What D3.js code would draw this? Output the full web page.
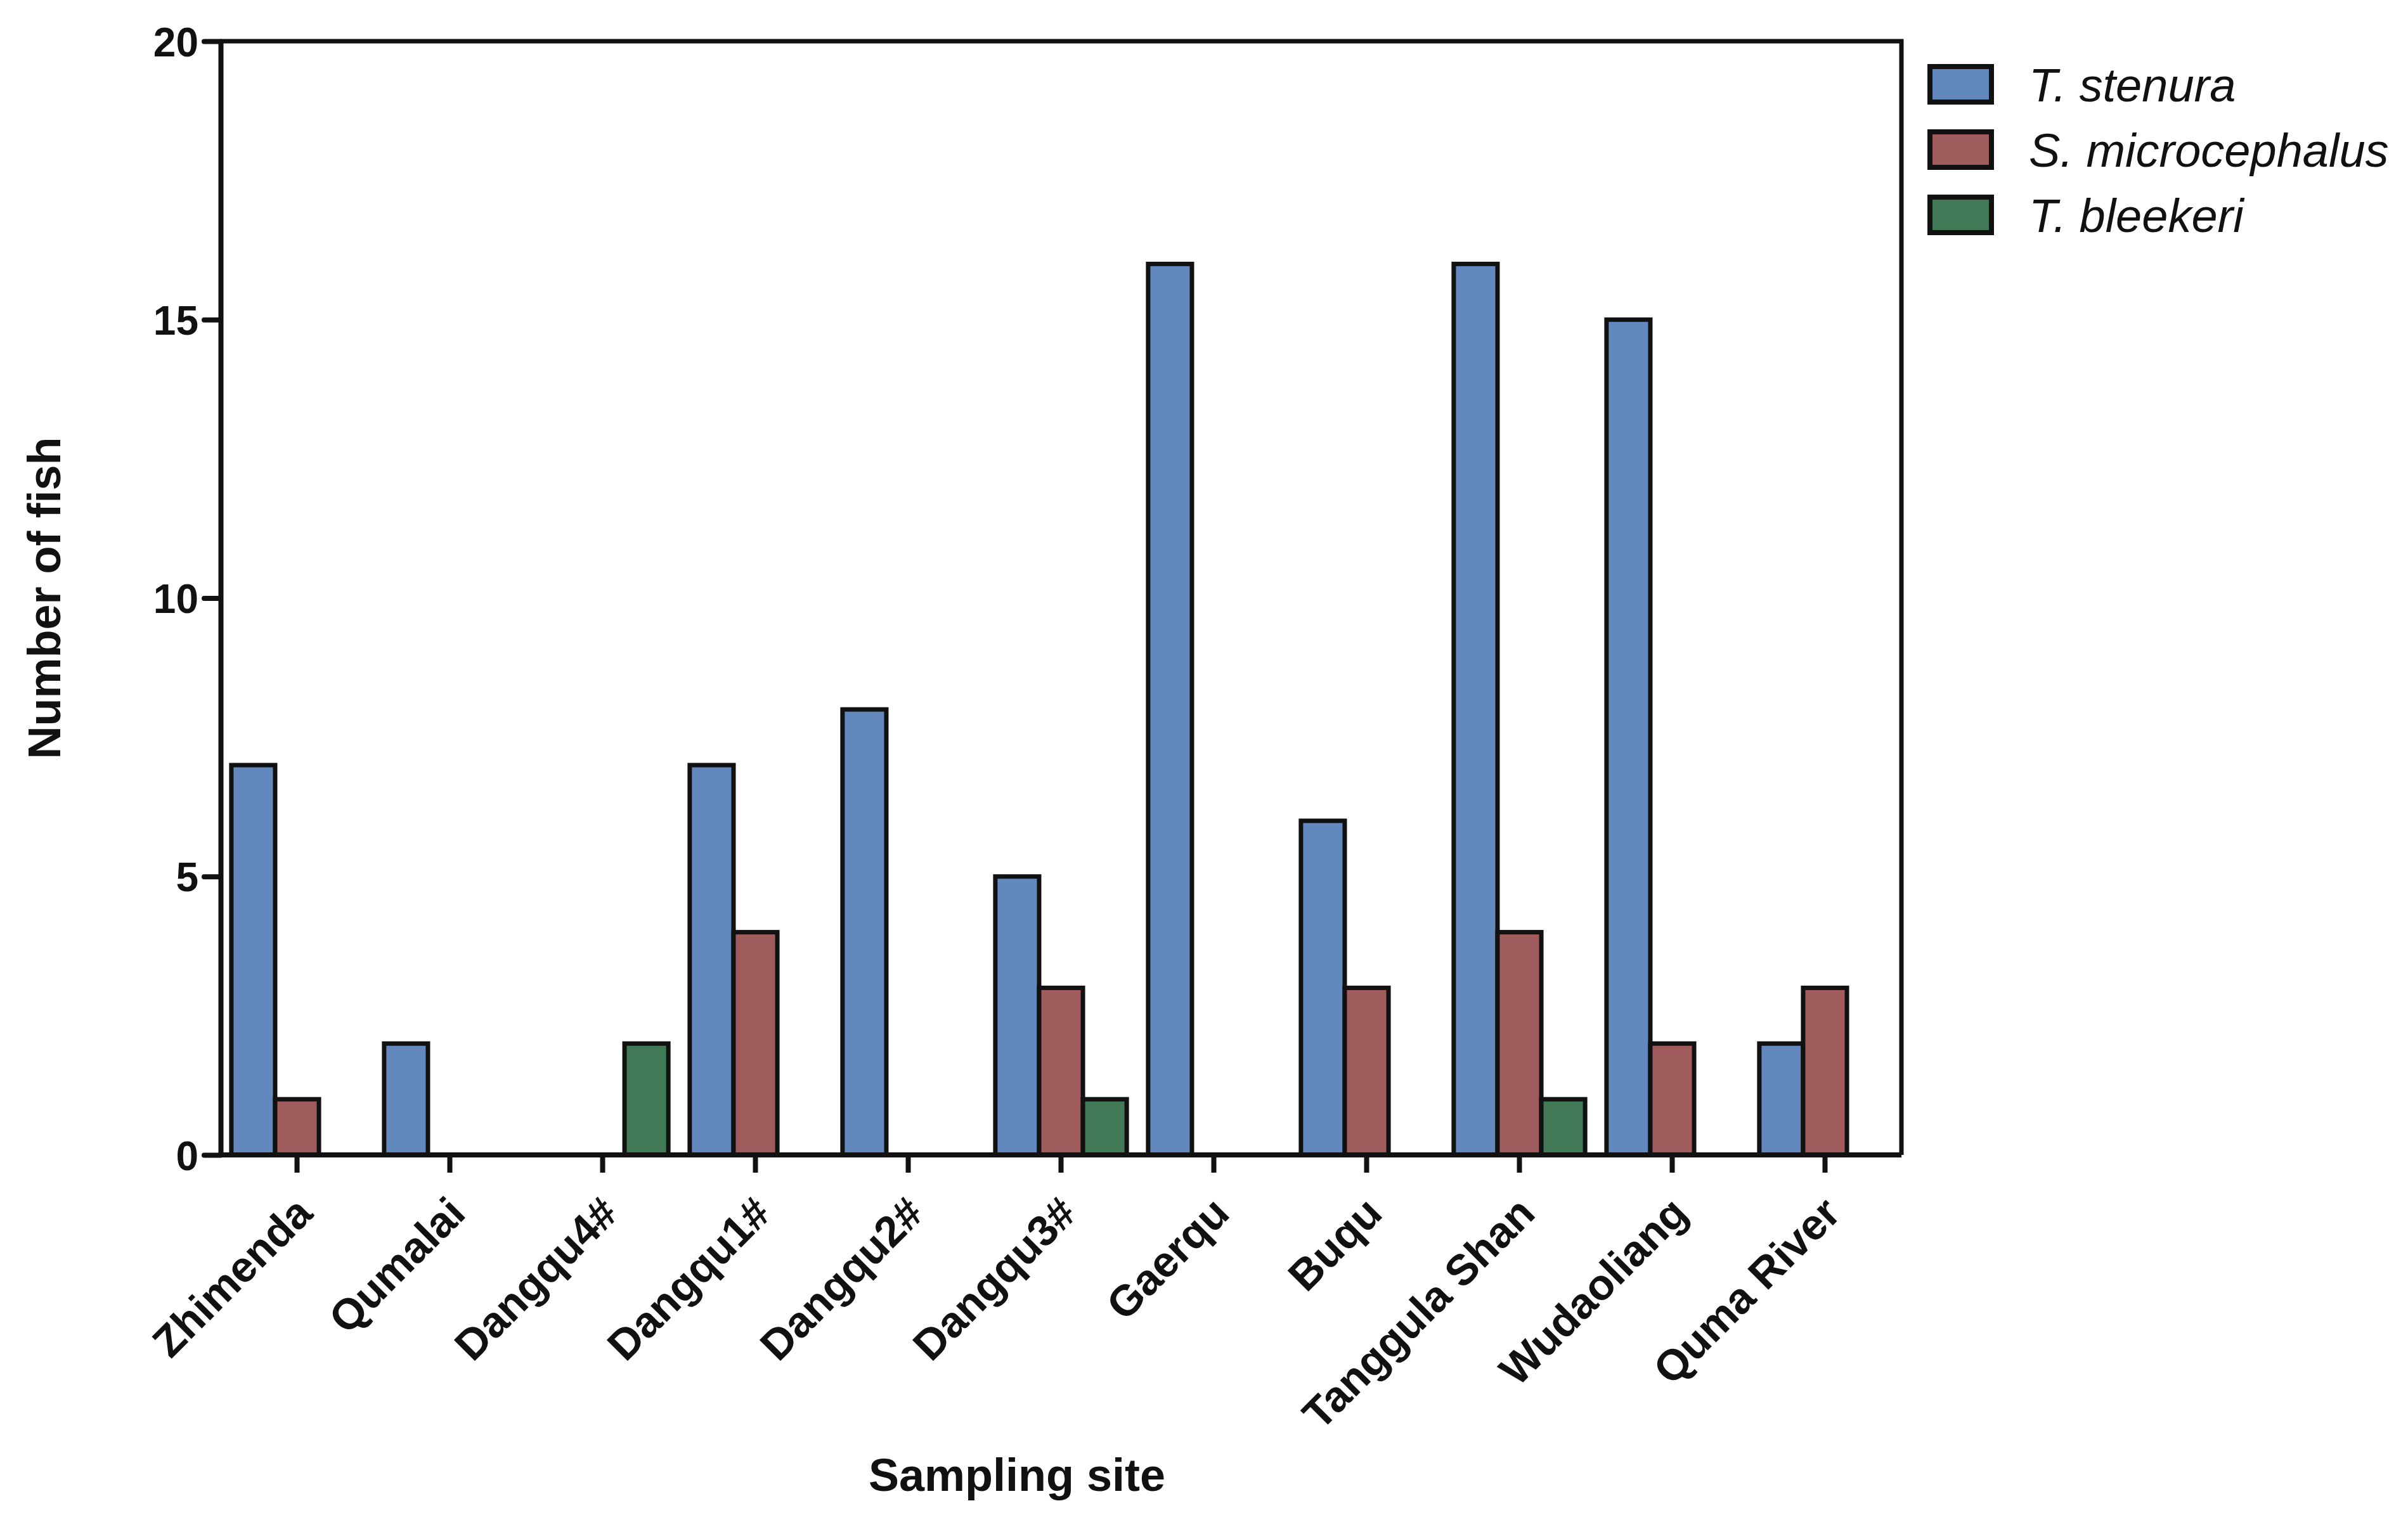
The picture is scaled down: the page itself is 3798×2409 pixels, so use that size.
<!DOCTYPE html>
<html>
<head>
<meta charset="utf-8">
<script src="https://cdn.jsdelivr.net/npm/d3@7"></script>
<style>
  html, body { margin: 0; padding: 0; background: #fff; }
  svg { display: block; }
  text { font-family: 'Liberation Sans', Arial, sans-serif; }
</style>
</head>
<body>
<svg id="chart" width="3798" height="2409"></svg>
<script>
const sites = ["Zhimenda", "Qumalai", "Dangqu4#", "Dangqu1#", "Dangqu2#", "Dangqu3#", "Gaerqu", "Buqu", "Tanggula Shan", "Wudaoliang", "Quma River"];
const seriesNames = ["T. stenura", "S. microcephalus", "T. bleekeri"];
const tStenura = [7, 2, 0, 7, 8, 5, 16, 6, 16, 15, 2];
const sMicrocephalus = [1, 0, 0, 4, 0, 3, 0, 3, 4, 2, 3];
const tBleekeri = [0, 0, 2, 0, 0, 1, 0, 0, 1, 0, 0];
const yTicks = [0, 5, 10, 15, 20];
const colors = ["#6388BD", "#A05C5D", "#417957"];

const seriesValues = [tStenura, sMicrocephalus, tBleekeri];
const svg = d3.select("#chart");
const L = 348, R = 2999, T = 65, B = 1822;
const ink = "#111";
const FONT = "'Liberation Sans', Arial, sans-serif";

const x0 = d3.scaleBand().domain(sites).range([L, R]).paddingInner(0.14).paddingOuter(0.07);
const x1 = d3.scaleBand().domain(seriesNames).range([0, x0.bandwidth()]).padding(0);
const y = d3.scaleLinear().domain([0, 20]).range([B, T]);

// bars
const groups = svg.append("g").selectAll("g").data(sites).join("g")
  .attr("transform", d => `translate(${x0(d)},0)`);
groups.selectAll("rect")
  .data((site, i) => seriesNames.map((s, k) => ({ s, k, v: seriesValues[k][i] })).filter(d => d.v > 0))
  .join("rect")
  .attr("x", d => x1(d.s))
  .attr("width", x1.bandwidth())
  .attr("y", d => y(d.v))
  .attr("height", d => y(0) - y(d.v))
  .attr("fill", d => colors[d.k])
  .attr("stroke", ink)
  .attr("stroke-width", 7);

// frame (top and right)
svg.append("path")
  .attr("d", `M${L},${T}H${R}V${B}`)
  .attr("fill", "none").attr("stroke", ink).attr("stroke-width", 7);

// y axis
const yAxis = svg.append("g").attr("transform", `translate(${L},0)`)
  .call(d3.axisLeft(y).tickValues(yTicks).tickSize(26).tickPadding(9).tickSizeOuter(0));
yAxis.select(".domain").attr("stroke", ink).attr("stroke-width", 8);
yAxis.selectAll(".tick line").attr("stroke", ink).attr("stroke-width", 8).attr("stroke-linecap", "round");
yAxis.selectAll(".tick text")
  .attr("font-family", FONT)
  .attr("font-weight", "bold").attr("font-size", 64).attr("fill", ink).attr("dy", "0.36em");

// x axis
const xAxis = svg.append("g").attr("transform", `translate(0,${B})`)
  .call(d3.axisBottom(x0).tickSize(28).tickSizeOuter(0).tickPadding(0));
xAxis.select(".domain").attr("stroke", ink).attr("stroke-width", 8)
  .attr("d", `M${L},0H${R}`);
xAxis.selectAll(".tick line").attr("stroke", ink).attr("stroke-width", 8);
xAxis.selectAll(".tick text")
  .attr("font-family", FONT)
  .attr("font-weight", "bold").attr("font-size", 68).attr("fill", ink)
  .attr("text-anchor", "end")
  .attr("dy", null)
  .attr("transform", "translate(8,76) rotate(-45)");

// axis titles
svg.append("text")
  .attr("transform", `translate(95,${(T + B) / 2}) rotate(-90)`)
  .attr("text-anchor", "middle")
  .attr("font-family", FONT)
  .attr("font-weight", "bold").attr("font-size", 72).attr("fill", ink)
  .text("Number of fish");
svg.append("text")
  .attr("x", 1604).attr("y", 2352)
  .attr("text-anchor", "middle")
  .attr("font-family", FONT)
  .attr("font-weight", "bold").attr("font-size", 72).attr("fill", ink)
  .text("Sampling site");

// legend
const legend = svg.append("g").selectAll("g").data(seriesNames).join("g")
  .attr("transform", (d, i) => `translate(3044,${133 + i * 103})`);
legend.append("rect")
  .attr("x", 0).attr("y", -28).attr("width", 97).attr("height", 56)
  .attr("fill", (d, i) => colors[i]).attr("stroke", ink).attr("stroke-width", 8);
legend.append("text")
  .attr("x", 156).attr("y", 27)
  .attr("font-family", FONT)
  .attr("font-style", "italic").attr("font-size", 74).attr("fill", ink)
  .text(d => d);
</script>
</body>
</html>
